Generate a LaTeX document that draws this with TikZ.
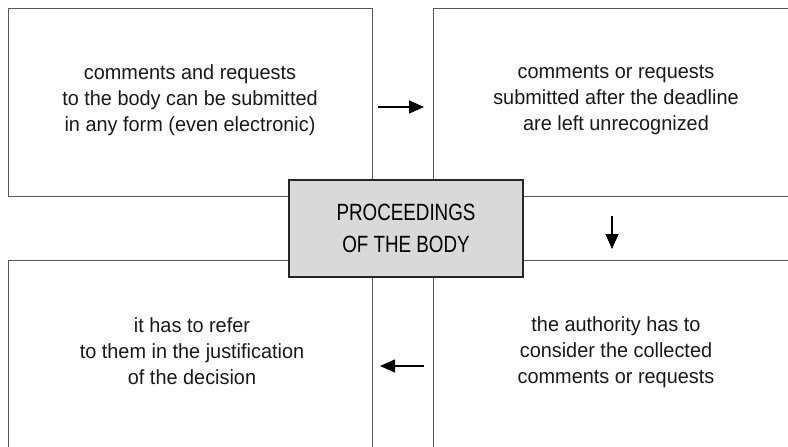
\documentclass[tikz,border=0pt]{standalone}
\usepackage{fontspec}
\setmainfont{Liberation Sans}[FakeStretch=0.97]
\newfontfamily\titlefont{Liberation Sans}[FakeStretch=0.8]
\usetikzlibrary{positioning,arrows.meta}

\begin{document}
\begin{tikzpicture}[x=1pt,y=-1pt,
  box/.style={draw=black!65,line width=1pt,inner sep=0pt,anchor=north west},
  txt/.style={align=center,font=\fontsize{20.5}{26}\selectfont,text=black!90},
  >={Triangle[length=15pt,width=13pt]}]
  \useasboundingbox (0,0) rectangle (788,447);
  \clip (0,0) rectangle (788,447);
  % the four fields, cut off at the page edge
  \node[box,minimum width=364pt,minimum height=188pt] (box_1) at (8,8) {};
  \node[box,minimum width=367pt,minimum height=188pt] (box_2) at (433,8) {};
  \node[box,minimum width=364pt,minimum height=200pt] (box_3) at (8,260) {};
  \node[box,minimum width=367pt,minimum height=200pt] (box_4) at (433,260) {};
  \node[txt] (t_1) at (190,100) {comments and requests\\to the body can be submitted\\in any form (even electronic)};
  \node[txt] (t_2) at (616,100) {comments or requests\\submitted after the deadline\\are left unrecognized};
  \node[txt] (t_3) at (192,351) {it has to refer\\to them in the justification\\of the decision};
  \node[txt] (t_4) at (616,352) {the authority has to\\consider the collected\\comments or requests};
  \node[draw=black!85,fill=black!15,line width=1.3pt,minimum width=234pt,minimum height=97pt,
        align=center,font=\titlefont\fontsize{23.5}{32}\selectfont] (body) at (406,228.5) {PROCEEDINGS\\OF THE BODY};
  % arrows
  \coordinate (a_1) at (378,107);
  \coordinate (b_1) at (424,107);
  \coordinate (a_2) at (612,216);
  \coordinate (b_2) at (612,249);
  \coordinate (a_3) at (424,366);
  \coordinate (b_3) at (380,366);
  \draw[->,line width=1.3pt] (a_1) -- (b_1);
  \draw[->,line width=1.3pt] (a_2) -- (b_2);
  \draw[->,line width=1.3pt] (a_3) -- (b_3);
\end{tikzpicture}
\end{document}
